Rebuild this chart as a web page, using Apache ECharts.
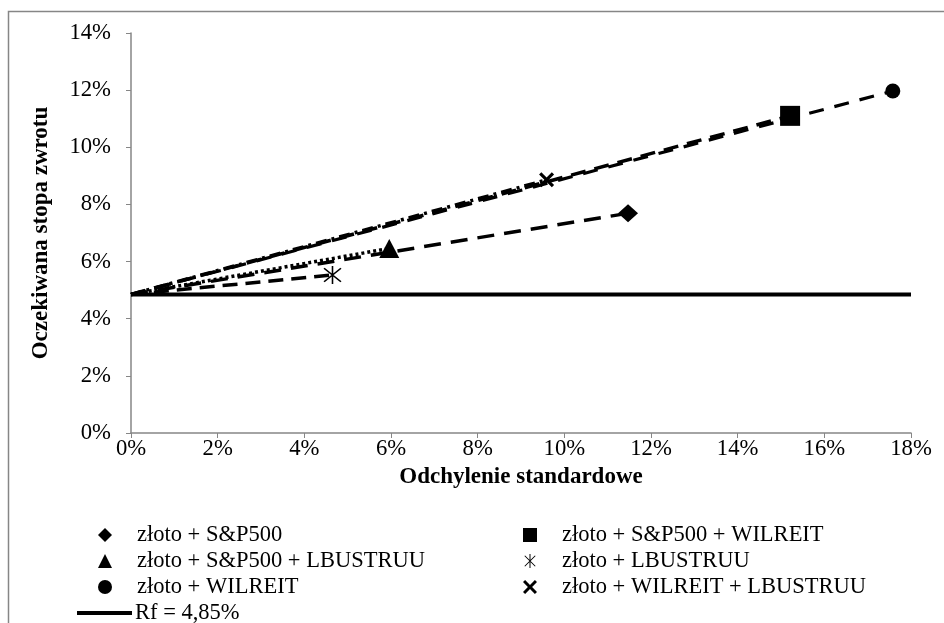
<!DOCTYPE html>
<html>
<head>
<meta charset="utf-8">
<title>Linie rynku kapitałowego</title>
<script src="https://cdn.jsdelivr.net/npm/echarts@6/dist/echarts.min.js"></script>
<style>
  html, body { margin: 0; padding: 0; background: #fff; }
  #chart { width: 944px; height: 623px; }
</style>
</head>
<body>
<div id="chart"></div>
<script>
// dane (w %)
const portfolioNames = [
    'złoto + S&P500',
    'złoto + S&P500 + WILREIT',
    'złoto + S&P500 + LBUSTRUU',
    'złoto + LBUSTRUU',
    'złoto + WILREIT',
    'złoto + WILREIT + LBUSTRUU'
];
const stdDev = [11.47, 15.21, 5.96, 4.65, 17.58, 9.59];
const expReturn = [7.69, 11.10, 6.46, 5.53, 11.97, 8.86];
const rfValue = 4.85;
const rfName = 'Rf = 4,85%';
const xRange = [0, 18];
const yRange = [0, 14];

// wygląd
const FONT = '"Liberation Serif", "Times New Roman", serif';
const AXIS_GRAY = '#868686';
const ASTERISK = 'path://M9.3 0 L10.7 0 L10.7 20 L9.3 20 Z M2 3 L3 2 L18 17 L17 18 Z M2 17 L17 2 L18 3 L3 18 Z';
const XMARK = 'path://M0 3 L3 0 L10 7 L17 0 L20 3 L13 10 L20 17 L17 20 L10 13 L3 20 L0 17 L7 10 Z';

const markers = [
    { symbol: 'diamond', size: [20, 18], dash: [17, 10], width: 3.5 },
    { symbol: 'rect', size: 20, dash: [15, 9], width: 3.5 },
    { symbol: 'triangle', size: [20, 19], dash: [3, 3], width: 3.5 },
    { symbol: ASTERISK, size: 18, dash: [15, 8], width: 3.5 },
    { symbol: 'circle', size: 15, dash: [15, 11], width: 3.2 },
    { symbol: XMARK, size: 15, dash: [11, 5, 3, 5], width: 3.5 }
];

const chart = echarts.init(document.getElementById('chart'));

const series = portfolioNames.map(function (name, i) {
    return {
        name: name,
        type: 'line',
        data: [
            { value: [0, rfValue], symbol: 'none' },
            { value: [stdDev[i], expReturn[i]] }
        ],
        symbol: markers[i].symbol,
        symbolSize: markers[i].size,
        lineStyle: { color: '#000', width: markers[i].width, type: markers[i].dash },
        itemStyle: { color: '#000' },
        z: 3
    };
});

series.unshift({
    name: rfName,
    type: 'line',
    data: [[xRange[0], rfValue], [xRange[1], rfValue]],
    symbol: 'none',
    lineStyle: { color: '#000', width: 4, type: 'solid' },
    itemStyle: { color: '#000' },
    z: 2
});

function legendItem(i) {
    return { name: portfolioNames[i], icon: markers[i].symbol };
}

const legendText = { fontFamily: FONT, fontSize: 22.5, color: '#000', lineHeight: 26, padding: [0, 0, 0, 20] };

const option = {
    animation: false,
    backgroundColor: '#fff',
    textStyle: { fontFamily: FONT },
    grid: { left: 131, right: 33, top: 33, bottom: 190 },
    xAxis: {
        type: 'value',
        min: xRange[0],
        max: xRange[1],
        interval: 2,
        name: 'Odchylenie standardowe',
        nameLocation: 'middle',
        nameGap: 22,
        nameTextStyle: { fontFamily: FONT, fontSize: 23, fontWeight: 'bold', color: '#000' },
        axisLine: { show: true, lineStyle: { color: AXIS_GRAY, width: 1.5 } },
        axisTick: { show: true, length: 5, lineStyle: { color: AXIS_GRAY } },
        axisLabel: { formatter: '{value}%', fontFamily: FONT, fontSize: 22.7, color: '#000', margin: 5 },
        splitLine: { show: false }
    },
    yAxis: {
        type: 'value',
        min: yRange[0],
        max: yRange[1],
        interval: 2,
        name: 'Oczekiwana stopa zwrotu',
        nameLocation: 'middle',
        nameGap: 78,
        nameTextStyle: { fontFamily: FONT, fontSize: 23, fontWeight: 'bold', color: '#000' },
        axisLine: { show: true, lineStyle: { color: AXIS_GRAY, width: 1.5 } },
        axisTick: { show: true, length: 5, lineStyle: { color: AXIS_GRAY } },
        axisLabel: { formatter: '{value}%', fontFamily: FONT, fontSize: 22.7, color: '#000', margin: 20 },
        splitLine: { show: false }
    },
    legend: [
        {
            orient: 'vertical',
            left: 93,
            top: 517,
            itemGap: 0,
            itemWidth: 14,
            itemHeight: 14,
            textStyle: legendText,
            data: [legendItem(0), legendItem(2), legendItem(4)]
        },
        {
            orient: 'vertical',
            left: 518,
            top: 517,
            itemGap: 0,
            itemWidth: 14,
            itemHeight: 14,
            textStyle: legendText,
            data: [legendItem(1), legendItem(3), legendItem(5)]
        },
        {
            left: 72,
            top: 595,
            itemWidth: 55,
            itemHeight: 4,
            itemGap: 0,
            textStyle: { fontFamily: FONT, fontSize: 22.5, color: '#000', lineHeight: 26, padding: [0, 0, 0, -2] },
            data: [{ name: rfName, icon: 'rect' }]
        }
    ],
    graphic: [{
        type: 'rect',
        shape: { x: 8.5, y: 11.5, width: 1200, height: 1200 },
        style: { fill: 'none', stroke: AXIS_GRAY, lineWidth: 1.5 },
        silent: true,
        z: -1
    }],
    series: series
};

chart.setOption(option);
window.addEventListener('resize', function () {
    chart.resize();
});
</script>
</body>
</html>
